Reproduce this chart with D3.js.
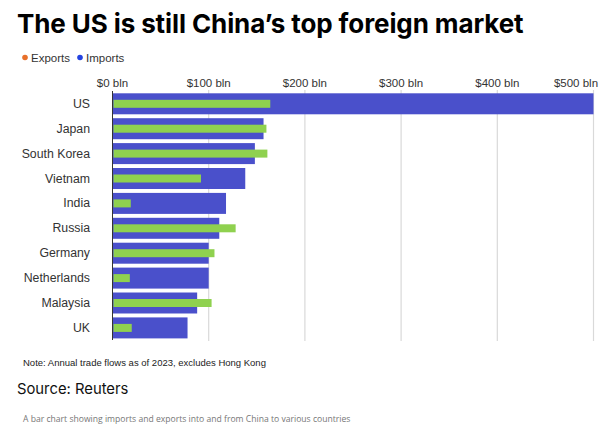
<!DOCTYPE html>
<html><head><meta charset="utf-8">
<script src="https://cdn.jsdelivr.net/npm/d3@7"></script>
<style>
body{margin:0;background:#fff;}
svg{display:block;}
</style></head>
<body>
<script>
const countries = ["US","Japan","South Korea","Vietnam","India","Russia","Germany","Netherlands","Malaysia","UK"];
const imports = [500,157,148,138,118,111,100,100,88,78];
const exports = [164,160,161,92,19,128,106,18,103,20];
const tickValues = [0,100,200,300,400,500];
const tickLabels = ["$0 bln","$100 bln","$200 bln","$300 bln","$400 bln","$500 bln"];

const W=600,H=447;
const svg=d3.select("body").append("svg").attr("width",W).attr("height",H);
const font="Liberation Sans, Arial, sans-serif";

svg.append("text").attr("x",17).attr("y",33).attr("font-family","Inter, sans-serif")
  .attr("font-weight",700).attr("font-size",26).attr("fill","#000").attr("letter-spacing","-0.1")
  .text("The US is still China’s top foreign market");

// legend
const leg=[["Exports","#e8702a",25],["Imports","#2443e0",80]];
leg.forEach(([t,c,x])=>{
  svg.append("circle").attr("cx",x).attr("cy",57.5).attr("r",2.8).attr("fill",c);
  svg.append("text").attr("x",x+6).attr("y",61.5).attr("font-family",font).attr("font-size",11.5).attr("fill","#333").text(t);
});

const x=d3.scaleLinear().domain([0,500]).range([112.5,593.5]);
const y=d3.scaleBand().domain(countries).range([91.35,340.35]).paddingInner(0.157).paddingOuter(0.0785);

// gridlines
svg.append("g").selectAll("line").data(tickValues.slice(1)).join("line")
  .attr("x1",d=>x(d)).attr("x2",d=>x(d)).attr("y1",90).attr("y2",341)
  .attr("stroke","#d9d9d9").attr("stroke-width",1.2);

// tick labels
svg.append("g").selectAll("text").data(tickValues).join("text")
  .attr("x",(d,i)=> i===5 ? 576 : x(d)).attr("y",87).attr("text-anchor","middle")
  .attr("font-family",font).attr("font-size",11.5).attr("fill","#333")
  .text((d,i)=>tickLabels[i]);

// bars
svg.append("g").selectAll("rect").data(countries).join("rect")
  .attr("x",x(0)).attr("y",d=>y(d)).attr("height",y.bandwidth())
  .attr("width",(d,i)=>x(imports[i])-x(0)).attr("fill","#4a50cb");
const gh=8;
svg.append("g").selectAll("rect").data(countries).join("rect")
  .attr("x",x(0)+1).attr("y",d=>y(d)+y.bandwidth()/2-gh/2).attr("height",gh)
  .attr("width",(d,i)=>x(exports[i])-x(0)-1).attr("fill","#8fd14f");

// axis line
svg.append("line").attr("x1",x(0)).attr("x2",x(0)).attr("y1",91).attr("y2",340)
  .attr("stroke","#333").attr("stroke-width",1);

// country labels
svg.append("g").selectAll("text").data(countries).join("text")
  .attr("x",90).attr("y",d=>y(d)+y.bandwidth()/2+4).attr("text-anchor","end")
  .attr("font-family",font).attr("font-size",12.3).attr("fill","#333").text(d=>d);

svg.append("text").attr("x",23).attr("y",366).attr("font-family",font).attr("font-size",9.5)
  .attr("fill","#222").text("Note: Annual trade flows as of 2023, excludes Hong Kong");
svg.append("text").attr("x",17).attr("y",394).attr("font-family","Inter, sans-serif").attr("font-size",14.8)
  .attr("fill","#111").text("Source: Reuters");
svg.append("text").attr("x",23).attr("y",422).attr("font-family","Open Sans, sans-serif").attr("font-size",8.6)
  .attr("fill","#777").text("A bar chart showing imports and exports into and from China to various countries");
</script>
</body></html>
